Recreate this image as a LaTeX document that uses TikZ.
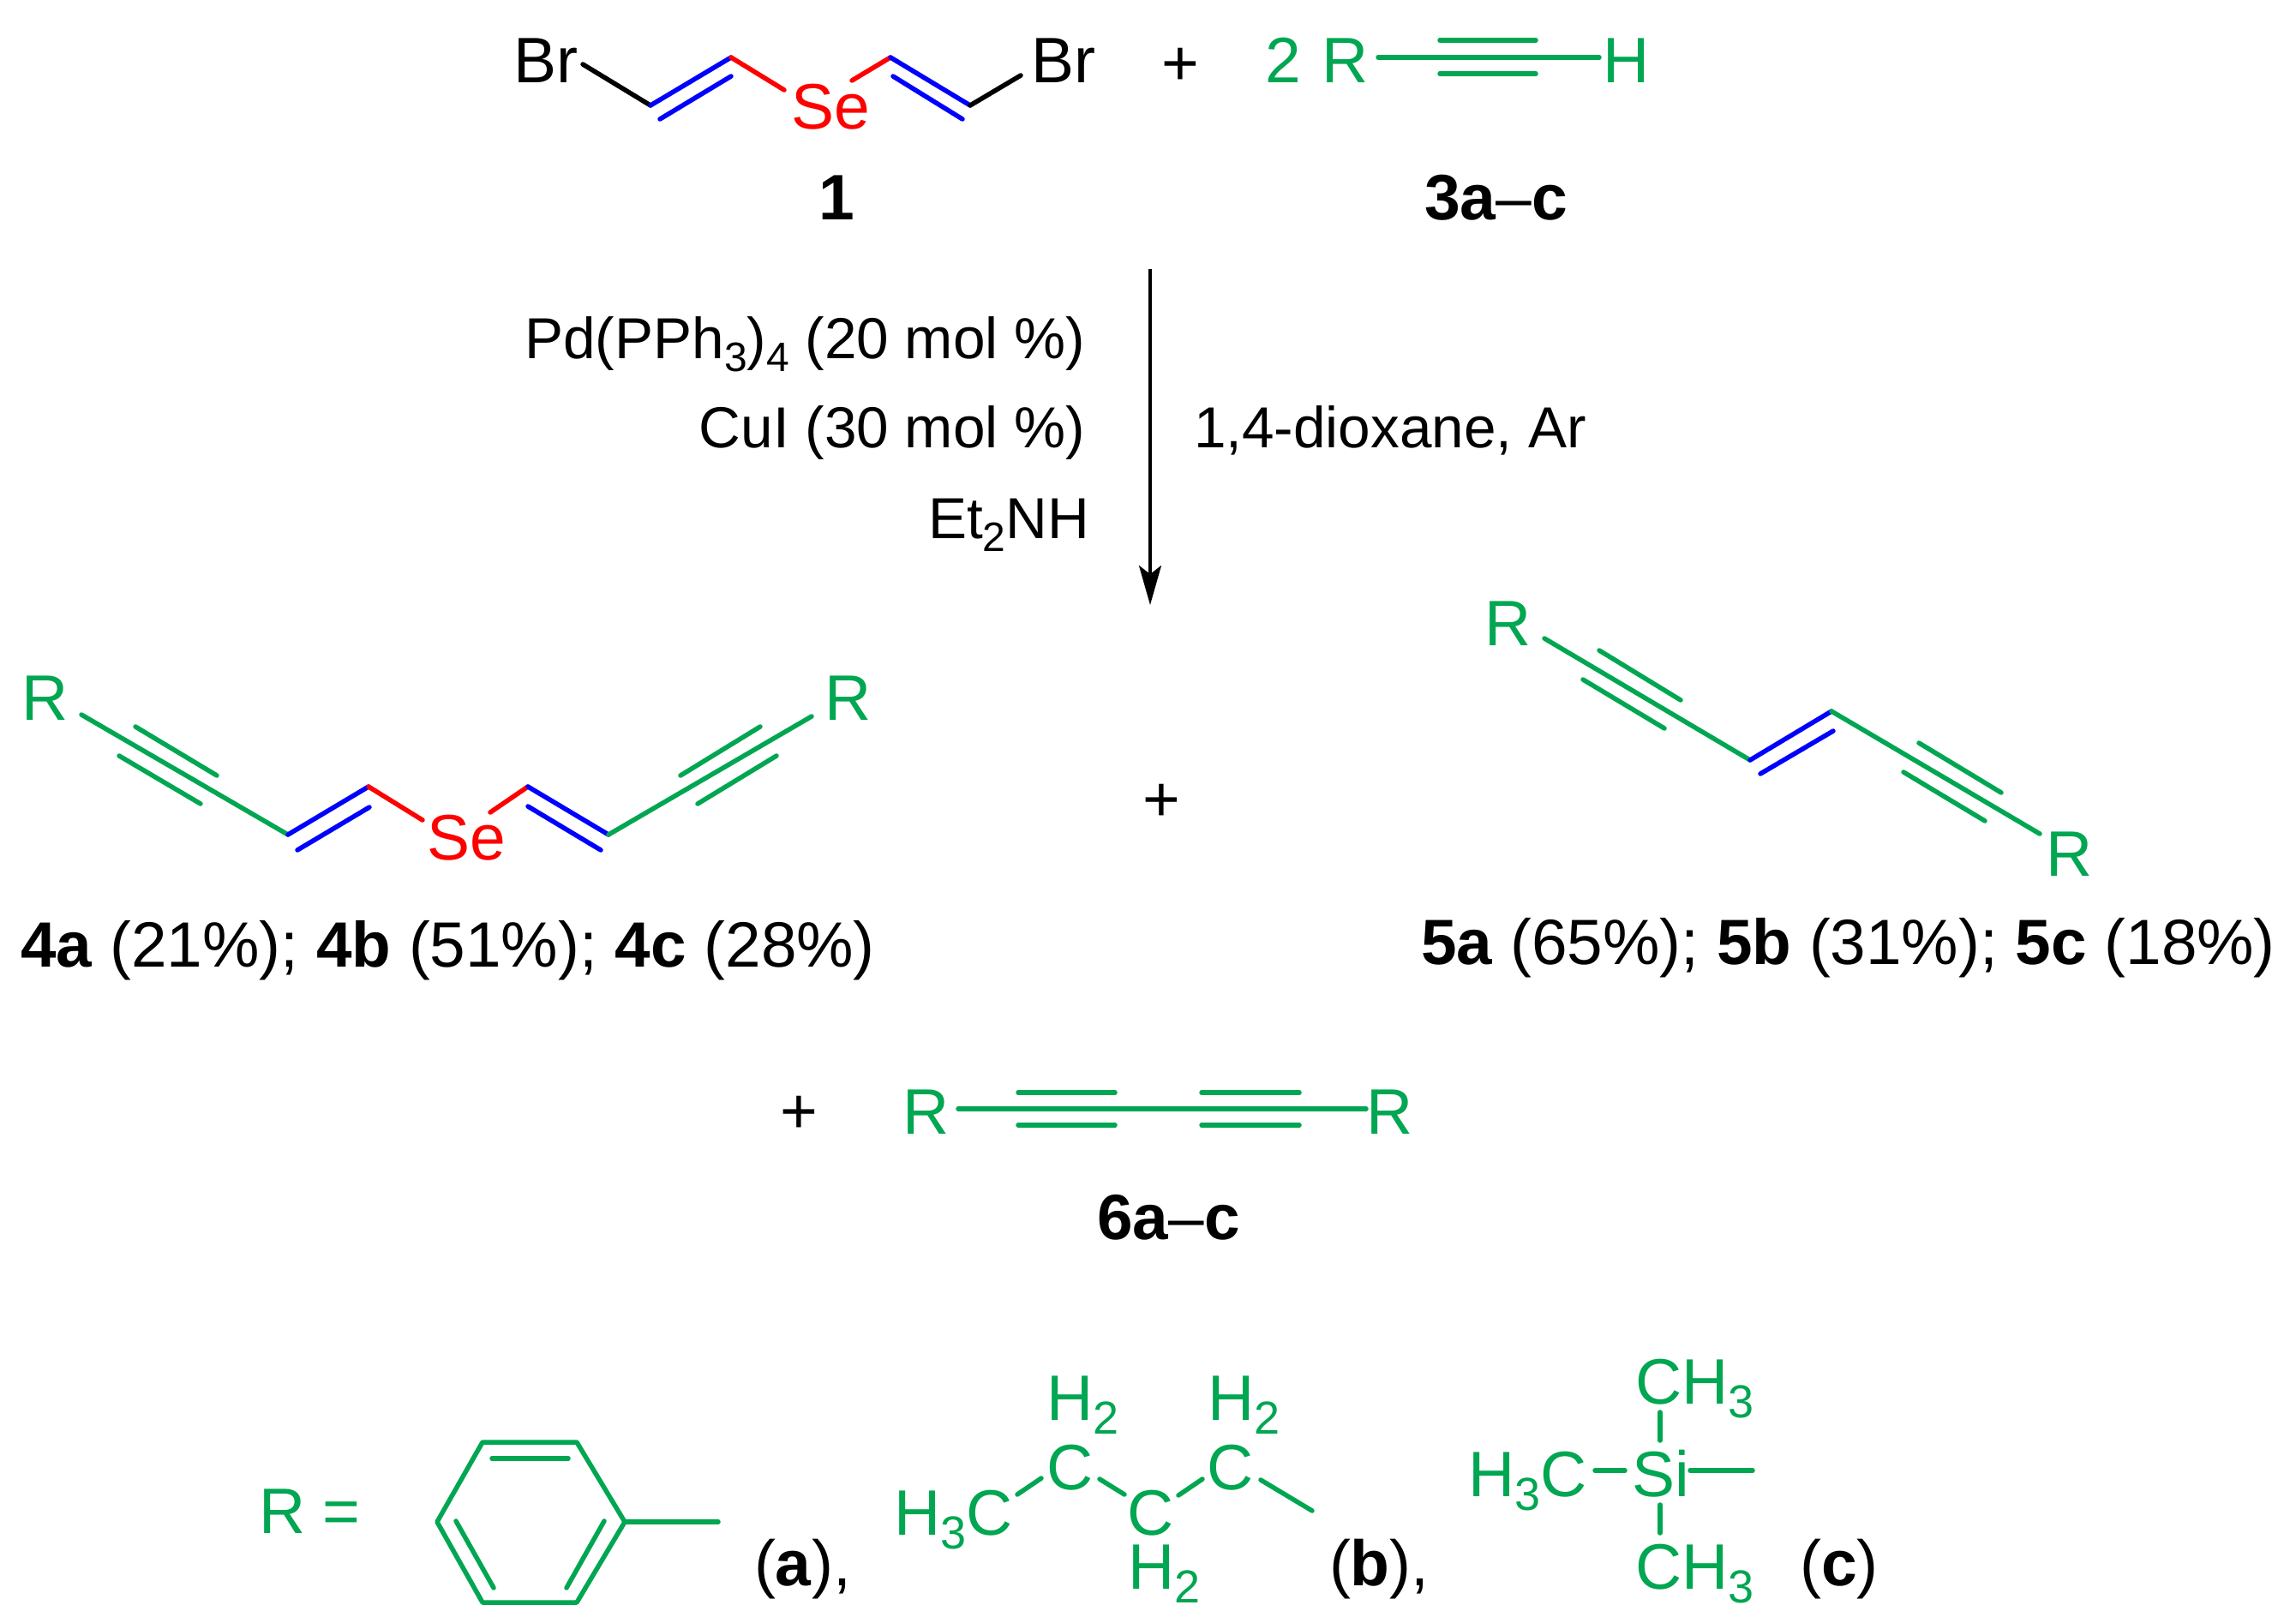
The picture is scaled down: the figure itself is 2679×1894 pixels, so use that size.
\documentclass[tikz,border=0pt]{standalone}
\usepackage{fontspec}
\setmainfont{Liberation Sans}
\usetikzlibrary{arrows.meta}
\definecolor{chemgreen}{HTML}{00A651}
\definecolor{chemblue}{HTML}{0000FF}
\definecolor{chemred}{HTML}{FF0000}
\newcommand{\sbs}[1]{\raisebox{-16pt}{\fontsize{54}{54}\selectfont #1}}
\newcommand{\sbc}[1]{\raisebox{-15pt}{\fontsize{48}{48}\selectfont #1}}
\tikzset{
  lbl/.style={inner sep=0pt,outer sep=0pt,anchor=base west,font=\fontsize{75}{75}\selectfont},
  yld/.style={inner sep=0pt,outer sep=0pt,anchor=base west,font=\fontsize{74.7}{75}\selectfont},
  cond/.style={inner sep=0pt,outer sep=0pt,anchor=base east,font=\fontsize{67.5}{67.5}\selectfont},
  glbl/.style={lbl,text=chemgreen},
  rlbl/.style={lbl,text=chemred},
  gb/.style={draw=chemgreen,line width=5.5pt,line cap=round},
  bb/.style={draw=chemblue,line width=5.5pt,line cap=round},
  rb/.style={draw=chemred,line width=5.5pt,line cap=round},
  kb/.style={draw=black,line width=5.5pt,line cap=round},
}
\newcommand{\lnk}[4]{\coordinate (#1a) at #3; \coordinate (#1b) at #4; \draw[#2] (#1a) -- (#1b);}
\begin{document}
\begin{tikzpicture}[x=1pt,y=-1pt]
\useasboundingbox (0,0) rectangle (2679,1894);
% ---- reactant 1
\node[lbl] (brl) at (599,97) {Br};
\node[rlbl] (se1) at (923,151) {Se};
\node[lbl] (brr) at (1203,97) {Br};
\node[lbl] (pl1) at (1355,100) {+};
\node[glbl] (two) at (1476,97) {2};
\node[glbl] (r3) at (1542,97) {R};
\node[glbl] (h3) at (1870,97) {H};
\node[lbl] (n1) at (955,257) {\textbf{1}};
\node[lbl] (n3) at (1662,257) {\textbf{3a}–\textbf{c}};
\lnk{a1}{kb}{(680,75)}{(759,123)}
\lnk{a2}{bb}{(759,123)}{(853,67)}
\lnk{a3}{bb}{(770,139)}{(853,89)}
\lnk{a4}{rb}{(853,67)}{(915,105)}
\lnk{a5}{rb}{(994,94)}{(1039,67)}
\lnk{a6}{bb}{(1039,67)}{(1132,123)}
\lnk{a7}{bb}{(1042,89)}{(1123,139)}
\lnk{a8}{kb}{(1132,123)}{(1191,88)}
\lnk{b1}{gb}{(1608,67)}{(1866,67)}
\lnk{b2}{gb}{(1680,47)}{(1792,47)}
\lnk{b3}{gb}{(1680,86)}{(1792,86)}
% ---- arrow and conditions
\coordinate (arrA) at (1342,314);
\coordinate (arrB) at (1342,706);
\draw[line width=4pt,-{Stealth[length=46pt,width=26pt,inset=10pt]}] (arrA) -- (arrB);
\node[cond] (c1) at (1266,418) {Pd(PPh\sbc{3})\sbc{4} (20 mol \%)};
\node[cond] (c2) at (1266,522) {CuI (30 mol \%)};
\node[cond] (c3) at (1271,628) {Et\sbc{2}NH};
\node[cond,anchor=base west] (c4) at (1393,522) {1,4-dioxane, Ar};
% ---- product 4
\node[glbl] (r4l) at (25,840) {R};
\node[glbl] (r4r) at (962,840) {R};
\node[rlbl] (se4) at (498,1003) {Se};
\node[yld] (l4) at (24,1128) {\textbf{4a} (21\%); \textbf{4b} (51\%); \textbf{4c} (28\%)};
\lnk{c1}{gb}{(95,834)}{(336,974)}
\lnk{c2}{gb}{(158,848)}{(253,905)}
\lnk{c3}{gb}{(139,882)}{(234,938)}
\lnk{c4}{bb}{(336,974)}{(430,918)}
\lnk{c5}{bb}{(347,992)}{(431,942)}
\lnk{c6}{rb}{(430,918)}{(493,957)}
\lnk{c7}{rb}{(572,948)}{(616,918)}
\lnk{c8}{bb}{(616,918)}{(710,974)}
\lnk{c9}{bb}{(616,941)}{(701,992)}
\lnk{c10}{gb}{(710,974)}{(947,836)}
\lnk{c11}{gb}{(794,905)}{(887,848)}
\lnk{c12}{gb}{(814,938)}{(906,882)}
% ---- plus
\node[lbl,anchor=center] (pl2) at (1355,937) {+};
% ---- product 5
\node[glbl] (r5l) at (1732,753) {R};
\node[glbl] (r5r) at (2387,1022) {R};
\node[yld] (l5) at (1658,1125) {\textbf{5a} (65\%); \textbf{5b} (31\%); \textbf{5c} (18\%)};
\lnk{d1}{gb}{(1802,745)}{(2042,887)}
\lnk{d2}{gb}{(1866,759)}{(1961,817)}
\lnk{d3}{gb}{(1847,793)}{(1942,850)}
\lnk{d4}{bb}{(2042,887)}{(2137,830)}
\lnk{d5}{bb}{(2054,903)}{(2139,853)}
\lnk{d6}{gb}{(2137,830)}{(2380,973)}
\lnk{d7}{gb}{(2239,867)}{(2335,925)}
\lnk{d8}{gb}{(2221,901)}{(2316,958)}
% ---- product 6
\node[lbl,anchor=center] (pl3) at (932,1301) {+};
\node[glbl] (r6l) at (1053,1323) {R};
\node[glbl] (r6r) at (1594,1323) {R};
\node[yld] (l6) at (1280,1446) {\textbf{6a}–\textbf{c}};
\lnk{e1}{gb}{(1118,1294)}{(1594,1294)}
\lnk{e2}{gb}{(1188,1275)}{(1301,1275)}
\lnk{e3}{gb}{(1188,1313)}{(1301,1313)}
\lnk{e4}{gb}{(1402,1275)}{(1516,1275)}
\lnk{e5}{gb}{(1402,1313)}{(1516,1313)}
% ---- R definitions
\node[glbl] (req) at (302,1789) {R =};
\coordinate (p1) at (510,1776);
\coordinate (p2) at (563,1683);
\coordinate (p3) at (673,1683);
\coordinate (p4) at (729,1776);
\coordinate (p5) at (673,1870);
\coordinate (p6) at (563,1870);
\draw[gb,line join=round] (p1) -- (p2) -- (p3) -- (p4) -- (p5) -- (p6) -- cycle;
\lnk{f1}{gb}{(729,1776)}{(838,1776)}
\lnk{f2}{gb}{(574,1702)}{(663,1702)}
\lnk{f3}{gb}{(532,1775)}{(576,1853)}
\lnk{f4}{gb}{(705,1775)}{(661,1853)}
\node[lbl] (la) at (880,1850) {(\textbf{a}),};
\node[glbl] (h3c1) at (1043,1791) {H\sbs{3}C};
\node[glbl] (c5a) at (1221,1738) {C};
\node[glbl] (h2a) at (1221,1657) {H\sbs{2}};
\node[glbl] (c5b) at (1315,1791) {C};
\node[glbl] (h2b) at (1316,1854) {H\sbs{2}};
\node[glbl] (c5c) at (1408,1738) {C};
\node[glbl] (h2c) at (1409,1657) {H\sbs{2}};
\lnk{g1}{gb}{(1187,1744)}{(1215,1725)}
\lnk{g2}{gb}{(1283,1726)}{(1312,1744)}
\lnk{g3}{gb}{(1375,1745)}{(1403,1726)}
\lnk{g4}{gb}{(1471,1727)}{(1531,1763)}
\node[lbl] (lb) at (1551,1850) {(\textbf{b}),};
\node[glbl] (h3c2) at (1713,1746) {H\sbs{3}C};
\node[glbl] (si) at (1904,1746) {Si};
\node[glbl] (ch3t) at (1908,1638) {CH\sbs{3}};
\node[glbl] (ch3b) at (1908,1854) {CH\sbs{3}};
\lnk{h1}{gb}{(1861,1716)}{(1896,1716)}
\lnk{h2}{gb}{(1972,1716)}{(2045,1716)}
\lnk{h3}{gb}{(1937,1648)}{(1937,1681)}
\lnk{h4}{gb}{(1937,1756)}{(1937,1789)}
\node[lbl] (lc) at (2100,1850) {(\textbf{c})};
\end{tikzpicture}
\end{document}
